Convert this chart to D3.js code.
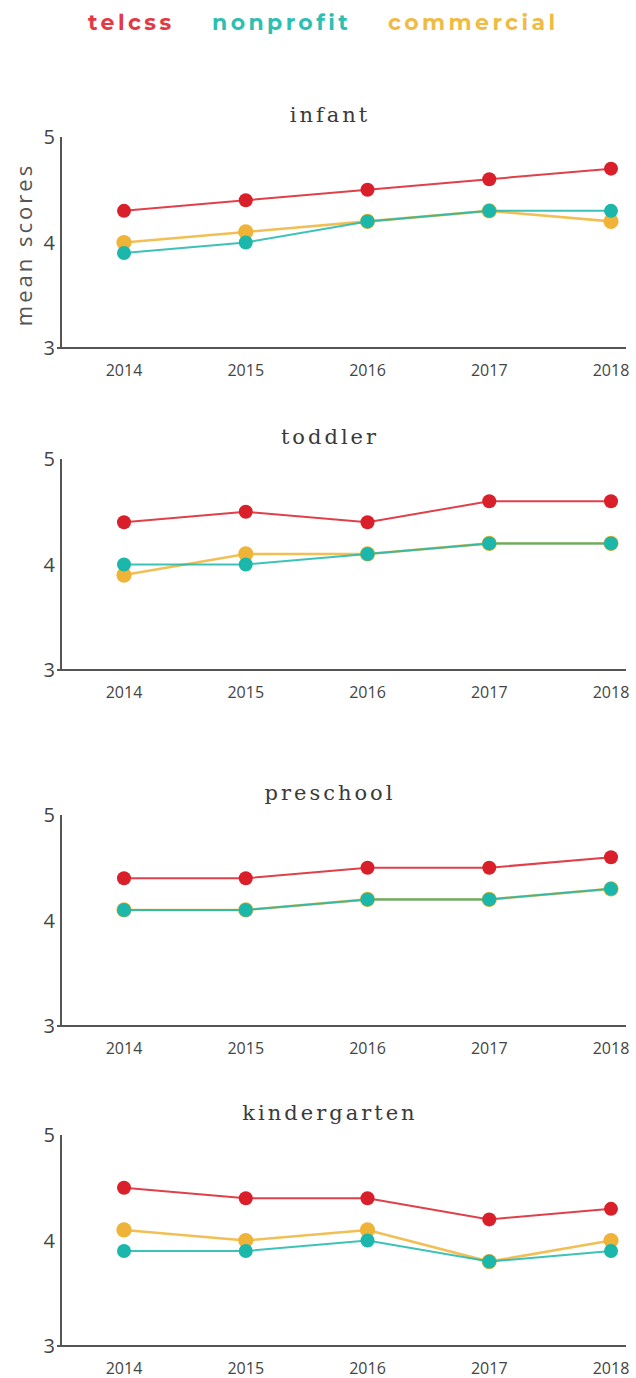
<!DOCTYPE html>
<html><head><meta charset="utf-8">
<script src="https://cdn.jsdelivr.net/npm/d3@7/dist/d3.min.js"></script>
<style>
html,body{margin:0;padding:0;background:#fff;}
svg{display:block;}
</style></head>
<body>
<script>
const years = ["2014","2015","2016","2017","2018"];
const seriesNames = ["telcss","nonprofit","commercial"];
const yTicks = [3,4,5];
const panels = ["infant","toddler","preschool","kindergarten"];

const telcss = {
  infant:       [4.3,4.4,4.5,4.6,4.7],
  toddler:      [4.4,4.5,4.4,4.6,4.6],
  preschool:    [4.4,4.4,4.5,4.5,4.6],
  kindergarten: [4.5,4.4,4.4,4.2,4.3]
};
const nonprofit = {
  infant:       [3.9,4.0,4.2,4.3,4.3],
  toddler:      [4.0,4.0,4.1,4.2,4.2],
  preschool:    [4.1,4.1,4.2,4.2,4.3],
  kindergarten: [3.9,3.9,4.0,3.8,3.9]
};
const commercial = {
  infant:       [4.0,4.1,4.2,4.3,4.2],
  toddler:      [3.9,4.1,4.1,4.2,4.2],
  preschool:    [4.1,4.1,4.2,4.2,4.3],
  kindergarten: [4.1,4.0,4.1,3.8,4.0]
};

const W = 636, H = 1378;
const colors = {telcss:"#d91f2a", nonprofit:"#1bb7aa", commercial:"#efb437"};
const legendColors = {telcss:"#e23944", nonprofit:"#2dbfb2", commercial:"#f0bb45"};
const panelTops = [137, 459, 815, 1135];
const panelH = 211;
const axisX = 61, axisRight = 626;

const svg = d3.select("body").append("svg").attr("width", W).attr("height", H);

// legend
const legendX = {telcss:88, nonprofit:212, commercial:388};
seriesNames.forEach(s => {
  svg.append("text").attr("x", legendX[s]).attr("y", 30)
    .attr("fill", legendColors[s])
    .style("font-family", "Montserrat, 'Open Sans', sans-serif")
    .style("font-weight", "700").style("font-size", "22px")
    .style("letter-spacing", "3.4px")
    .text(s);
});

const x = d3.scalePoint().domain(years).range([124, 611]);

panels.forEach((p, i) => {
  const top = panelTops[i];
  const y = d3.scaleLinear().domain([3,5]).range([top + panelH, top]);
  const g = svg.append("g");

  // title
  g.append("text").attr("x", 330).attr("y", top - 15)
    .attr("text-anchor", "middle").attr("fill", "#3a3a3a")
    .style("font-family", "'DejaVu Serif', serif").style("font-size", "21px")
    .style("letter-spacing", "3px")
    .text(p);

  // axes lines
  g.append("line").attr("x1", axisX).attr("x2", axisX)
    .attr("y1", y(5)).attr("y2", y(3)).attr("stroke", "#555").attr("stroke-width", 2);
  g.append("line").attr("x1", axisX - 4).attr("x2", axisRight)
    .attr("y1", y(3)).attr("y2", y(3)).attr("stroke", "#555").attr("stroke-width", 2);

  // y tick labels
  yTicks.forEach(t => {
    g.append("text").attr("x", axisX - 6).attr("y", y(t) + 7)
      .attr("text-anchor", "end").attr("fill", "#444")
      .style("font-family", "'Open Sans', sans-serif").style("font-size", "20px")
      .text(t);
  });
  // x tick labels
  years.forEach(yr => {
    g.append("text").attr("x", x(yr)).attr("y", y(3) + 28)
      .attr("text-anchor", "middle").attr("fill", "#444")
      .style("font-family", "'Open Sans', sans-serif").style("font-size", "16px")
      .text(yr);
  });

  const data = {telcss: telcss[p], nonprofit: nonprofit[p], commercial: commercial[p]};
  const line = d3.line().x((d, k) => x(years[k])).y(d => y(d));
  const widths = {telcss: 2, commercial: 2.6, nonprofit: 2};
  const radii = {telcss: 7, commercial: 7.6, nonprofit: 7};
  ["telcss","commercial","nonprofit"].forEach(s => {
    g.append("path").attr("d", line(data[s])).attr("fill", "none")
      .attr("stroke", colors[s]).attr("stroke-width", widths[s]).attr("stroke-opacity", 0.85);
    g.selectAll(null).data(data[s]).enter().append("circle")
      .attr("cx", (d, k) => x(years[k])).attr("cy", d => y(d)).attr("r", radii[s])
      .attr("fill", colors[s]);
  });

  if (i === 0) {
    g.append("text").attr("transform", `translate(32,${top + panelH/2 + 2}) rotate(-90)`)
      .attr("text-anchor", "middle").attr("fill", "#555")
      .style("font-family", "'Open Sans', sans-serif").style("font-size", "22px")
      .style("letter-spacing", "3px")
      .text("mean scores");
  }
});
</script>
</body></html>
